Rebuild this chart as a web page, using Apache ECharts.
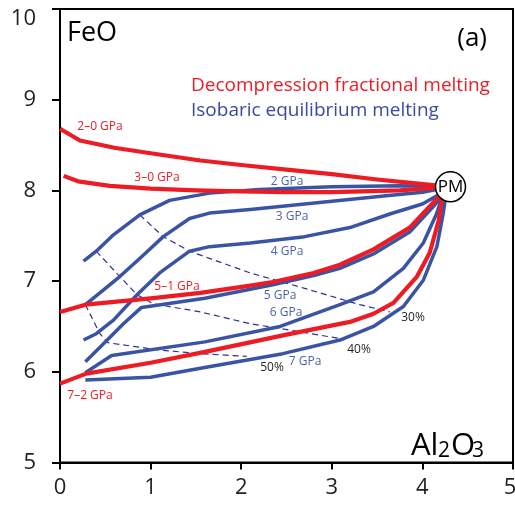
<!DOCTYPE html>
<html>
<head>
<meta charset="utf-8">
<script src="https://cdn.jsdelivr.net/npm/echarts@6/dist/echarts.min.js"></script>
<style>
html,body{margin:0;padding:0;background:#fff;}
#chart{width:515px;height:507px;}
</style>
</head>
<body>
<div id="chart"></div>
<script>
// ---- data (Al2O3, FeO) ----
var xTicks = [0, 1, 2, 3, 4, 5];
var yTicks = [5, 6, 7, 8, 9, 10];
var PM = [[4.31, 8.04]];

// Decompression fractional melting (red)
var red_2_0 = [[0,8.68],[0.22,8.55],[0.6,8.47],[1.0,8.41],[1.55,8.33],[2.0,8.28],[2.5,8.23],[3.0,8.18],[3.5,8.12],[3.9,8.08],[4.31,8.04]];
var red_3_0 = [[0.04,8.16],[0.2,8.1],[0.55,8.05],[1.0,8.02],[1.5,8.0],[2.0,7.99],[2.5,7.98],[3.0,7.98],[3.75,8.0],[4.31,8.04]];
var red_5_1 = [[0,6.66],[0.28,6.74],[1.0,6.81],[1.55,6.87],[2.1,6.95],[2.35,6.99],[2.8,7.09],[3.09,7.18],[3.46,7.35],[3.86,7.59],[4.16,7.91],[4.31,8.04]];
var red_7_2 = [[0,5.87],[0.29,5.98],[1.0,6.1],[1.6,6.22],[2.5,6.41],[3.2,6.55],[3.46,6.64],[3.68,6.76],[3.94,7.05],[4.08,7.31],[4.18,7.67],[4.22,7.93],[4.31,8.04]];

// Isobaric equilibrium melting (blue)
var blue_2 = [[0.26,7.22],[0.40,7.33],[0.59,7.51],[0.88,7.73],[1.21,7.89],[1.65,7.97],[2.2,8.01],[3.0,8.04],[3.75,8.05],[4.31,8.04]];
var blue_3 = [[0.28,6.74],[0.44,6.87],[0.66,7.05],[0.88,7.25],[1.14,7.49],[1.43,7.69],[1.65,7.75],[2.1,7.79],[3.0,7.88],[3.6,7.94],[4.0,7.98],[4.31,8.04]];
var blue_4 = [[0.26,6.35],[0.40,6.42],[0.59,6.57],[0.85,6.85],[1.10,7.09],[1.43,7.33],[1.65,7.38],[2.1,7.42],[2.7,7.49],[3.2,7.59],[3.64,7.74],[4.0,7.85],[4.16,7.94],[4.31,8.04]];
var blue_5 = [[0.28,6.11],[0.48,6.31],[0.70,6.53],[0.90,6.71],[1.6,6.81],[2.35,6.96],[2.8,7.06],[3.09,7.14],[3.46,7.3],[3.86,7.54],[4.1,7.8],[4.31,8.04]];
var blue_6 = [[0.28,5.99],[0.57,6.18],[1.6,6.33],[2.43,6.5],[3.09,6.74],[3.46,6.88],[3.79,7.14],[4.01,7.42],[4.16,7.75],[4.23,7.97],[4.31,8.04]];
var blue_7 = [[0.28,5.91],[1.0,5.94],[1.55,6.04],[2.46,6.2],[3.09,6.35],[3.46,6.5],[3.79,6.72],[4.01,7.01],[4.16,7.38],[4.23,7.75],[4.26,7.95],[4.31,8.04]];

// Melt-fraction isopleths (dashed)
var melt_30 = [[0.88,7.73],[1.14,7.49],[1.43,7.33],[1.65,7.25],[2.1,7.09],[2.7,6.92],[3.31,6.74],[3.64,6.66]];
var melt_40 = [[0.40,7.33],[0.66,7.05],[0.85,6.85],[1.03,6.75],[1.55,6.66],[2.1,6.53],[2.6,6.45],[3.13,6.36]];
var melt_50 = [[0.28,6.74],[0.44,6.42],[0.53,6.32],[1.1,6.24],[1.55,6.2],[2.06,6.17]];

var RED = '#ed1c24', BLUE = '#3a54a5', NAVY = '#2e3192', LBLUE = '#4a5fae', INK = '#231f20';
var FONT = '"Open Sans", sans-serif';

function line(d, color, w, dashed, z) {
  return { type: 'line', data: d, showSymbol: false, symbol: 'none', silent: true, z: z,
    lineStyle: { color: color, width: w, type: dashed ? [6, 4] : 'solid', cap: 'butt', join: 'round' } };
}

var series = [
  line(melt_30, NAVY, 1.2, true, 2), line(melt_40, NAVY, 1.2, true, 2), line(melt_50, NAVY, 1.2, true, 2),
  line(blue_2, BLUE, 3.5, false, 3), line(blue_3, BLUE, 3.5, false, 3), line(blue_4, BLUE, 3.5, false, 3),
  line(blue_5, BLUE, 3.5, false, 3), line(blue_6, BLUE, 3.5, false, 3), line(blue_7, BLUE, 3.5, false, 3),
  line(red_2_0, RED, 4.2, false, 4), line(red_3_0, RED, 4.2, false, 4), line(red_5_1, RED, 4.2, false, 4), line(red_7_2, RED, 4.2, false, 4),
  { type: 'scatter', data: PM, symbol: 'circle', symbolSize: 30, z: 10, silent: true,
    itemStyle: { color: '#fff', borderColor: '#000', borderWidth: 1.5, opacity: 1 },
    label: { show: true, position: 'inside', formatter: 'PM', color: '#000', fontSize: 17, fontFamily: FONT } }
];

function txt(s, x, y, size, color, align) {
  return { type: 'text', x: x, y: y, silent: true, z: 100,
    style: { text: s, fill: color, font: size + 'px ' + FONT, textAlign: align || 'left', textVerticalAlign: 'middle' } };
}

var graphics = [
  txt('FeO', 67, 33, 27, '#000'),
  txt('(a)', 487, 39, 26, '#000', 'right'),
  txt('Decompression fractional melting', 191, 86, 19, RED),
  txt('Isobaric equilibrium melting', 191, 111, 19, '#3a4aa0'),
  txt('Al', 411, 446, 31, '#000'),
  txt('2', 438, 451, 21, '#000'),
  txt('O', 451, 446, 31, '#000'),
  txt('3', 472, 451, 21, '#000'),
  txt('2–0 GPa', 100, 127, 12, RED, 'center'),
  txt('3–0 GPa', 157, 178, 12, RED, 'center'),
  txt('5–1 GPa', 177, 287, 12, RED, 'center'),
  txt('7–2 GPa', 90, 396, 12, RED, 'center'),
  txt('2 GPa', 287, 182, 12, LBLUE, 'center'),
  txt('3 GPa', 292, 217, 12, LBLUE, 'center'),
  txt('4 GPa', 287, 252, 12, LBLUE, 'center'),
  txt('5 GPa', 280, 296, 12, LBLUE, 'center'),
  txt('6 GPa', 286, 313, 12, LBLUE, 'center'),
  txt('7 GPa', 305, 362, 12, LBLUE, 'center'),
  txt('30%', 413, 318, 12, INK, 'center'),
  txt('40%', 359, 350, 12, INK, 'center'),
  txt('50%', 272, 368, 12, INK, 'center')
];

var chart = echarts.init(document.getElementById('chart'), null, { renderer: 'canvas' });
chart.setOption({
  animation: false,
  backgroundColor: '#fff',
  grid: { left: 60, top: 9, right: 2, bottom: 44.5, show: true, borderColor: '#000', borderWidth: 2,
          containLabel: false, outerBoundsMode: 'none', backgroundColor: 'transparent' },
  xAxis: { type: 'value', min: xTicks[0], max: xTicks[xTicks.length - 1], interval: 1,
    axisLine: { show: true, lineStyle: { color: '#000', width: 2 } },
    axisTick: { show: true, length: 7, lineStyle: { color: '#000', width: 2 } },
    splitLine: { show: false },
    axisLabel: { fontSize: 22, color: INK, fontFamily: FONT, margin: 14,
      formatter: function (v) { return v === 5 ? '{e|5}' : String(v); },
      rich: { e: { fontSize: 22, color: INK, fontFamily: FONT, padding: [0, 6, 0, 0] } } } },
  yAxis: { type: 'value', min: yTicks[0], max: yTicks[yTicks.length - 1], interval: 1,
    axisLine: { show: true, lineStyle: { color: '#000', width: 2 } },
    axisTick: { show: true, length: 8, lineStyle: { color: '#000', width: 2 } },
    splitLine: { show: false },
    axisLabel: { fontSize: 22, color: INK, fontFamily: FONT, margin: 24,
      formatter: function (v) { return v === 10 ? '{t|10}' : String(v); },
      rich: { t: { fontSize: 22, color: INK, fontFamily: FONT, padding: [20, 0, 0, 0] } } } },
  series: series,
  graphic: graphics
});
</script>
</body>
</html>
